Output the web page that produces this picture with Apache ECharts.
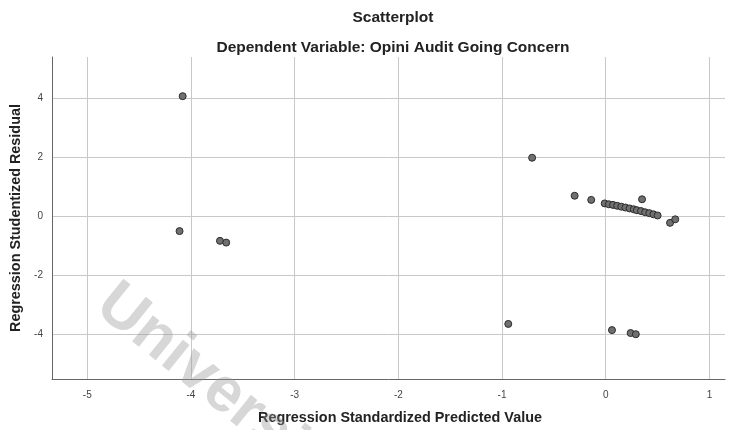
<!DOCTYPE html>
<html>
<head>
<meta charset="utf-8">
<script src="https://cdn.jsdelivr.net/npm/echarts@6/dist/echarts.min.js"></script>
<style>
  html, body { margin: 0; padding: 0; background: #fff; }
  #chart { width: 734px; height: 430px; }
</style>
</head>
<body>
<div id="chart"></div>
<script>
// predicted values (x) and studentized residuals (y)
const predicted = [
  -4.08, -4.11, -3.72, -3.66,
  -0.71, -0.30, -0.14, 0.35,
  -0.01, 0.03, 0.07, 0.11, 0.15, 0.19, 0.23, 0.27, 0.30, 0.34, 0.38, 0.42, 0.46, 0.50,
  0.62, 0.67,
  -0.94, 0.06, 0.24, 0.29
];
const residual = [
  4.07, -0.51, -0.84, -0.90,
  1.98, 0.69, 0.55, 0.57,
  0.43, 0.40, 0.38, 0.35, 0.32, 0.29, 0.26, 0.23, 0.20, 0.17, 0.13, 0.10, 0.06, 0.02,
  -0.23, -0.11,
  -3.66, -3.87, -3.97, -4.01
];
const xTicks = [-5, -4, -3, -2, -1, 0, 1];
const yTicks = [-4, -2, 0, 2, 4];

const points = predicted.map((v, i) => [v, residual[i]]);

const font = 'Arial, "Liberation Sans", sans-serif';
const myChart = echarts.init(document.getElementById('chart'));

myChart.setOption({
  animation: false,
  title: [
    {
      text: 'Scatterplot',
      left: 388, top: 5, textAlign: 'center',
      textStyle: { fontFamily: font, fontSize: 15.5, fontWeight: 'bold', color: '#222' }
    },
    {
      text: 'Dependent Variable: Opini Audit Going Concern',
      left: 388, top: 35, textAlign: 'center',
      textStyle: { fontFamily: font, fontSize: 15.5, fontWeight: 'bold', color: '#222' }
    }
  ],
  grid: { left: 52, right: 9, top: 57, bottom: 44 },
  xAxis: {
    type: 'value',
    min: -5.34, max: 1.15,
    name: 'Regression Standardized Predicted Value',
    nameLocation: 'middle',
    nameGap: 32,
    nameTextStyle: { fontFamily: font, fontSize: 14.4, fontWeight: 'bold', color: '#222', padding: [0, 0, 0, 23] },
    axisLine: { show: true, onZero: false, lineStyle: { color: '#666', width: 1 } },
    axisTick: { show: false, customValues: xTicks },
    axisLabel: { customValues: xTicks, fontFamily: font, fontSize: 10, color: '#444', margin: 11 },
    splitLine: { show: true, lineStyle: { color: '#c8c8c8', width: 1 } }
  },
  yAxis: {
    type: 'value',
    min: -5.53, max: 5.4,
    name: 'Regression Studentized Residual',
    nameLocation: 'middle',
    nameGap: 27,
    nameTextStyle: { fontFamily: font, fontSize: 14.4, fontWeight: 'bold', color: '#222' },
    axisLine: { show: true, onZero: false, lineStyle: { color: '#666', width: 1 } },
    axisTick: { show: false, customValues: yTicks },
    axisLabel: { customValues: yTicks, fontFamily: font, fontSize: 10, color: '#444', margin: 9 },
    splitLine: { show: true, lineStyle: { color: '#c8c8c8', width: 1 } }
  },
  graphic: [
    {
      type: 'text',
      x: 124, y: 272,
      rotation: -0.68,
      z: 100,
      silent: true,
      style: {
        text: 'Universitas',
        font: 'bold 63px ' + font,
        fill: 'rgba(150,150,150,0.38)'
      }
    }
  ],
  series: [
    {
      type: 'scatter',
      data: points,
      symbolSize: 7,
      itemStyle: { color: '#707070', borderColor: '#2b2b2b', borderWidth: 1, opacity: 1 }
    }
  ]
});
</script>
</body>
</html>
